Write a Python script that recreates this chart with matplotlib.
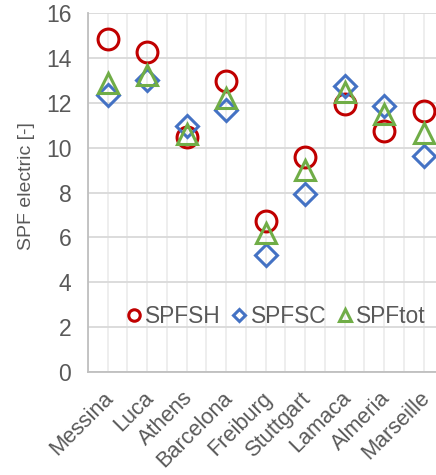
import matplotlib
matplotlib.use('Agg')
import matplotlib.pyplot as plt
import matplotlib.transforms as mtransforms
import numpy as np

cities = ['Messina', 'Luca', 'Athens', 'Barcelona', 'Freiburg',
          'Stuttgart', 'Lamaca', 'Almeria', 'Marseille']
spf_sh = [14.83, 14.27, 10.49, 12.97, 6.73, 9.57, 11.93, 10.74, 11.63]
spf_sc = [12.35, 13.0, 10.95, 11.68, 5.21, 7.92, 12.74, 11.85, 9.64]
spf_tot = [12.9, 13.25, 10.6, 12.2, 6.2, 9.0, 12.5, 11.5, 10.64]

grey_txt = '#595959'
plt.rcParams['font.family'] = ['Liberation Sans', 'DejaVu Sans']

fig = plt.figure(figsize=(4.36, 4.75), dpi=100)
ax = fig.add_axes([0.2018, 0.2168, 0.815, 0.7558])

x = np.arange(len(cities))
ms = 15
mew = 2.2
ax.plot(x, spf_sh, linestyle='none', marker='o', ms=ms, mfc='none',
        mec='#C00000', mew=mew, label='SPFSH', zorder=3)
ax.plot(x, spf_sc, linestyle='none', marker='D', ms=ms * 0.78, mfc='none',
        mec='#4472C4', mew=mew, label='SPFSC', zorder=3)
ax.plot(x, spf_tot, linestyle='none', marker='^', ms=ms, mfc='none',
        mec='#70AD47', mew=mew, label='SPFtot', zorder=3)

ax.set_xlim(-0.5, len(cities) - 0.5)
ax.set_ylim(0, 16)
ax.set_yticks(np.arange(0, 17, 2))
ax.set_xticks(x)
ax.set_xticks(np.arange(-0.5, len(cities), 1), minor=True)
ax.set_xticklabels([])

# rotated category labels, nudged a bit left and down from the tick
shift = mtransforms.ScaledTranslation(-0.045, -0.155, fig.dpi_scale_trans)
for xi, name in zip(x, cities):
    ax.text(xi, 0, name, transform=ax.get_xaxis_transform() + shift,
            rotation=45, ha='right', va='top', rotation_mode='anchor',
            fontsize=15.7, color=grey_txt, clip_on=False)

ax.grid(axis='y', color='#D9D9D9', linewidth=1.3, zorder=0)
ax.grid(axis='x', which='both', color='#EDEDED', linewidth=1.3, zorder=0)
ax.set_axisbelow(True)

for s in ['top', 'right']:
    ax.spines[s].set_visible(False)
for s in ['left', 'bottom']:
    ax.spines[s].set_color('#BFBFBF')
    ax.spines[s].set_linewidth(1.3)

ax.tick_params(axis='both', which='both', length=0, labelcolor=grey_txt)
ax.tick_params(axis='y', pad=12, labelsize=16.5)
ax.set_ylabel('SPF electric [-]', fontsize=14, color=grey_txt)
ax.yaxis.set_label_coords(-0.15, 0.518)

ax.legend(loc='center left', bbox_to_anchor=(0.075, 0.155), ncol=3,
          frameon=False, fontsize=16.4, labelcolor=grey_txt,
          handletextpad=0.05, columnspacing=0.35, handlelength=0.9,
          markerscale=0.55, borderaxespad=0)

plt.savefig('out.png', dpi=100)
plt.close()
